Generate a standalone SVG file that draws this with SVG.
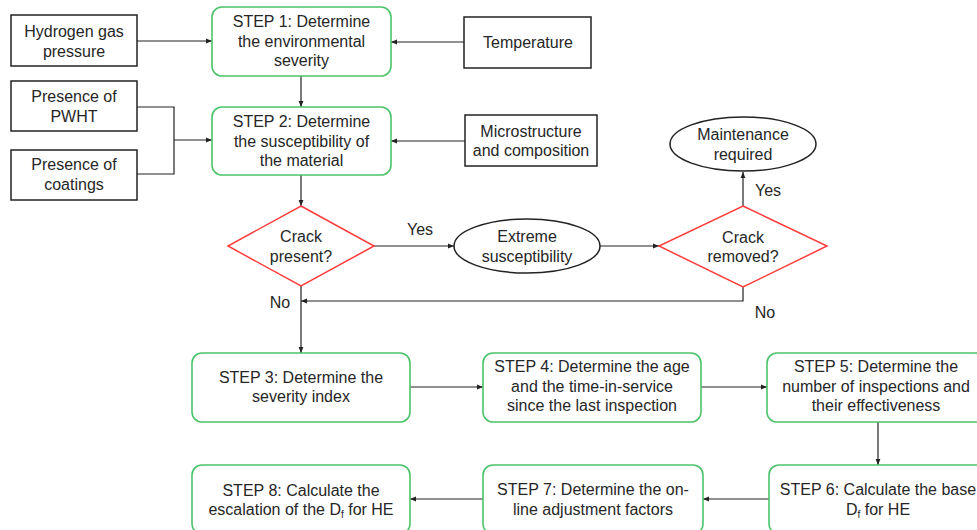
<svg xmlns="http://www.w3.org/2000/svg" width="977" height="530" viewBox="0 0 977 530">
<defs>
<marker id="arr" markerUnits="userSpaceOnUse" markerWidth="6" markerHeight="6" refX="6" refY="3" orient="auto">
<path d="M0,0.6 L6,3 L0,5.4 z" fill="#222"/>
</marker>
<style>
text{font-family:"Liberation Sans",Arial,sans-serif;font-size:16px;fill:#262626;text-anchor:middle}
.step{fill:#fff;stroke:#4cc36a;stroke-width:1.6}
.inp{fill:#fff;stroke:#222;stroke-width:1.5}
.dec{fill:#fff;stroke:#ff3b3b;stroke-width:1.5}
.ell{fill:#fff;stroke:#222;stroke-width:1.5}
.con{fill:none;stroke:#222;stroke-width:1.2}
.arr{marker-end:url(#arr)}
.lbl{text-anchor:start}
.sub{font-size:10px}
</style>
</defs>
<rect width="977" height="530" fill="#fff"/>
<g id="connectors">
<line class="con arr" x1="137" y1="41" x2="212" y2="41"/>
<line class="con arr" x1="464" y1="42" x2="391" y2="42"/>
<line class="con arr" x1="301" y1="76" x2="301" y2="107"/>
<polyline class="con" points="137,107 174,107 174,174 137,174"/>
<line class="con arr" x1="174" y1="140" x2="212" y2="140"/>
<line class="con arr" x1="465" y1="141" x2="391" y2="141"/>
<line class="con arr" x1="301" y1="175" x2="301" y2="206"/>
<line class="con arr" x1="374" y1="246" x2="454" y2="246"/>
<line class="con arr" x1="599" y1="246" x2="659" y2="246"/>
<line class="con arr" x1="743" y1="206" x2="743" y2="172"/>
<polyline class="con arr" points="743,287 743,301 301,301"/>
<line class="con arr" x1="301" y1="286" x2="301" y2="353"/>
<line class="con arr" x1="410" y1="387" x2="483" y2="387"/>
<line class="con arr" x1="701" y1="387" x2="767" y2="387"/>
<line class="con arr" x1="878" y1="422" x2="878" y2="465"/>
<line class="con arr" x1="769" y1="499" x2="703" y2="499"/>
<line class="con arr" x1="483" y1="499" x2="410" y2="499"/>
<text x="420" y="235">Yes</text>
<text class="lbl" x="755" y="196">Yes</text>
<text x="280" y="308">No</text>
<text x="765" y="318">No</text>
</g>
<g id="hydrogen">
<rect class="inp" x="11" y="15" width="126" height="51"/>
<text x="74" y="37">Hydrogen gas</text>
<text x="74" y="57">pressure</text>
</g>
<g id="temperature">
<rect class="inp" x="464" y="17" width="127" height="51"/>
<text x="528" y="48">Temperature</text>
</g>
<g id="pwht">
<rect class="inp" x="11" y="81" width="126" height="50"/>
<text x="74" y="102">Presence of</text>
<text x="74" y="122">PWHT</text>
</g>
<g id="coatings">
<rect class="inp" x="11" y="150" width="126" height="50"/>
<text x="74" y="170">Presence of</text>
<text x="74" y="190">coatings</text>
</g>
<g id="micro">
<rect class="inp" x="465" y="115" width="132" height="51"/>
<text x="531" y="137">Microstructure</text>
<text x="531" y="156">and composition</text>
</g>
<g id="step1">
<rect class="step" x="212" y="7" width="179" height="69" rx="10"/>
<text x="301.5" y="27">STEP 1: Determine</text>
<text x="301.5" y="46.5">the environmental</text>
<text x="301.5" y="66">severity</text>
</g>
<g id="step2">
<rect class="step" x="212" y="107" width="179" height="68" rx="10"/>
<text x="301.5" y="127">STEP 2: Determine</text>
<text x="301.5" y="146.5">the susceptibility of</text>
<text x="301.5" y="166">the material</text>
</g>
<g id="crack-present">
<polygon class="dec" points="301,206 374,246 301,286 228,246"/>
<text x="301" y="242">Crack</text>
<text x="301" y="262">present?</text>
</g>
<g id="extreme">
<ellipse class="ell" cx="527" cy="246" rx="73" ry="27"/>
<text x="527" y="242">Extreme</text>
<text x="527" y="262">susceptibility</text>
</g>
<g id="crack-removed">
<polygon class="dec" points="743,206 827,246 743,287 659,246"/>
<text x="743" y="243">Crack</text>
<text x="743" y="262">removed?</text>
</g>
<g id="maintenance">
<ellipse class="ell" cx="743" cy="144" rx="73" ry="27"/>
<text x="743" y="140">Maintenance</text>
<text x="743" y="160">required</text>
</g>
<g id="step3">
<rect class="step" x="192" y="353" width="218" height="69" rx="10"/>
<text x="301" y="383">STEP 3: Determine the</text>
<text x="301" y="402">severity index</text>
</g>
<g id="step4">
<rect class="step" x="483" y="353" width="218" height="69" rx="10"/>
<text x="592" y="372">STEP 4: Determine the age</text>
<text x="592" y="391.5">and the time-in-service</text>
<text x="592" y="411">since the last inspection</text>
</g>
<g id="step5">
<rect class="step" x="767" y="353" width="218" height="69" rx="10"/>
<text x="876" y="372">STEP 5: Determine the</text>
<text x="876" y="391.5">number of inspections and</text>
<text x="876" y="411">their effectiveness</text>
</g>
<g id="step6">
<rect class="step" x="769" y="465" width="218" height="69" rx="10"/>
<text x="878" y="495">STEP 6: Calculate the base</text>
<text x="878" y="515">D<tspan class="sub" dy="3">f</tspan><tspan dy="-3"> for HE</tspan></text>
</g>
<g id="step7">
<rect class="step" x="483" y="465" width="220" height="69" rx="10"/>
<text x="593" y="495">STEP 7: Determine the on-</text>
<text x="593" y="515">line adjustment factors</text>
</g>
<g id="step8">
<rect class="step" x="192" y="465" width="218" height="69" rx="10"/>
<text x="301" y="496">STEP 8: Calculate the</text>
<text x="301" y="515">escalation of the D<tspan class="sub" dy="3">f</tspan><tspan dy="-3"> for HE</tspan></text>
</g>
</svg>
